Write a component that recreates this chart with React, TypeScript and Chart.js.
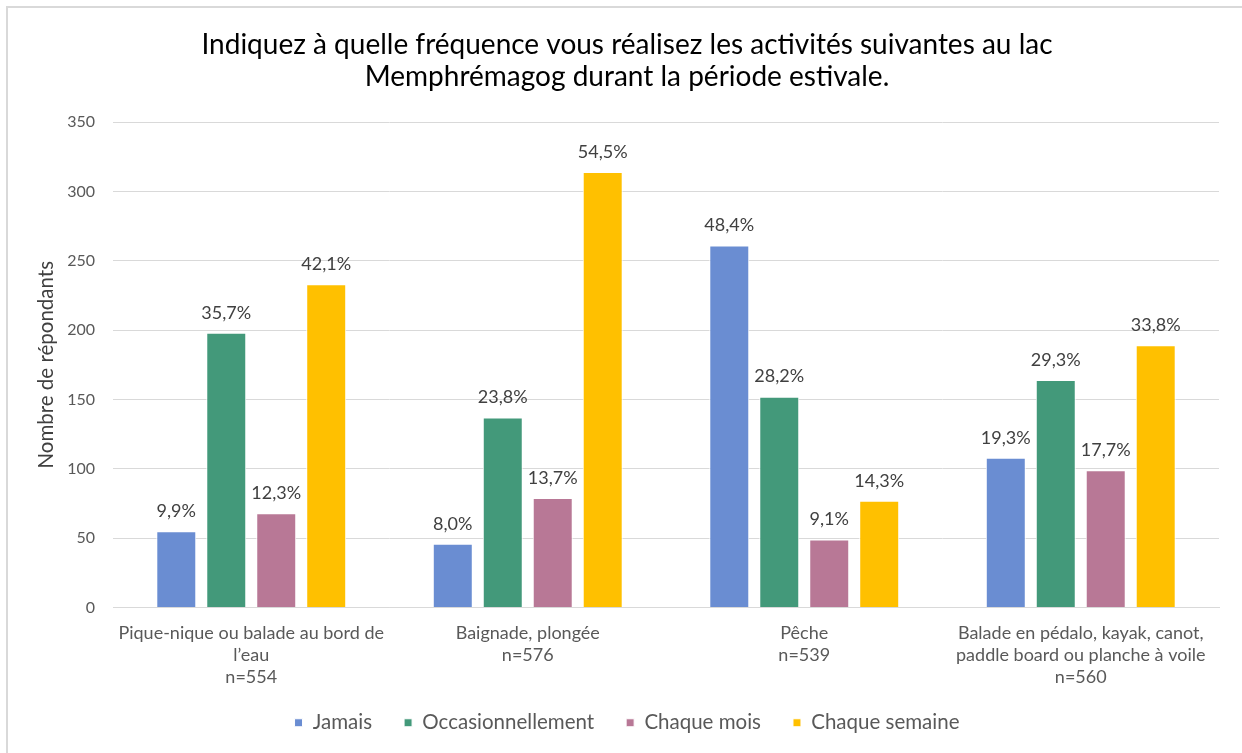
import React, { useEffect, useRef } from "react";
import { Chart, registerables } from "chart.js";

Chart.register(...registerables);

const categories: string[][] = [
  ["Pique-nique ou balade au bord de", "l’eau", "n=554"],
  ["Baignade, plongée", "n=576"],
  ["Pêche", "n=539"],
  ["Balade en pédalo, kayak, canot,", "paddle board ou planche à voile", "n=560"],
];

const seriesNames = ["Jamais", "Occasionnellement", "Chaque mois", "Chaque semaine"];
const seriesColors = ["#6A8DD2", "#43997A", "#B87896", "#FFC000"];

const jamais = [55, 46, 261, 108];
const occasionnellement = [198, 137, 152, 164];
const chaqueMois = [68, 79, 49, 99];
const chaqueSemaine = [233, 314, 77, 189];

const jamaisPct = ["9,9%", "8,0%", "48,4%", "19,3%"];
const occasionnellementPct = ["35,7%", "23,8%", "28,2%", "29,3%"];
const chaqueMoisPct = ["12,3%", "13,7%", "9,1%", "17,7%"];
const chaqueSemainePct = ["42,1%", "54,5%", "14,3%", "33,8%"];

const yTicks = [0, 50, 100, 150, 200, 250, 300, 350];

const titleLines = [
  "Indiquez à quelle fréquence vous réalisez les activités suivantes au lac",
  "Memphrémagog durant la période estivale.",
];
const yAxisTitle = "Nombre de répondants";

const FONT = "Lato, 'Open Sans', sans-serif";

const valueSets = [jamais, occasionnellement, chaqueMois, chaqueSemaine];
const labelSets = [jamaisPct, occasionnellementPct, chaqueMoisPct, chaqueSemainePct];

const dataLabelPlugin = {
  id: "pctLabels",
  afterDatasetsDraw(chart: any) {
    const ctx = chart.ctx;
    ctx.save();
    ctx.font = `18px ${FONT}`;
    ctx.fillStyle = "#404040";
    ctx.textAlign = "center";
    ctx.textBaseline = "middle";
    chart.data.datasets.forEach((ds: any, i: number) => {
      const meta = chart.getDatasetMeta(i);
      meta.data.forEach((bar: any, j: number) => {
        ctx.fillText(labelSets[i][j], bar.x, bar.y - 20);
      });
    });
    ctx.restore();
  },
};

export default function App() {
  const ref = useRef<HTMLCanvasElement>(null);
  useEffect(() => {
    if (!ref.current) return;
    const chart = new Chart(ref.current, {
      type: "bar",
      data: {
        labels: categories,
        datasets: seriesNames.map((name, i) => ({
          label: name,
          data: valueSets[i],
          backgroundColor: seriesColors[i],
          borderColor: "#ffffff",
          borderWidth: 1,
          categoryPercentage: 0.723,
          barPercentage: 0.8,
        })),
      },
      options: {
        animation: false,
        responsive: false,
        maintainAspectRatio: false,
        layout: { padding: { left: 35, right: 23, top: 0, bottom: 10 } },
        plugins: {
          title: {
            display: true,
            text: titleLines,
            color: "#000000",
            font: { family: FONT, size: 28, weight: "normal", lineHeight: 1.143 },
            padding: { top: 29, bottom: 29 },
          },
          legend: {
            display: true,
            position: "bottom",
            labels: {
              boxWidth: 8,
              boxHeight: 8,
              color: "#595959",
              font: { family: FONT, size: 20.5 },
              padding: 32,
            },
          },
          tooltip: { enabled: false },
        },
        scales: {
          x: {
            grid: { display: false, drawTicks: false },
            border: { display: true, color: "#d9d9d9", width: 1 },
            ticks: {
              color: "#595959",
              font: { family: FONT, size: 18, lineHeight: 1.222 },
              padding: 15,
              maxRotation: 0,
              autoSkip: false,
            },
            afterFit: (scale: any) => {
              scale.height = 73;
              scale._computeLabelArea = () => undefined;
            },
          },
          y: {
            min: 0,
            max: 350,
            afterBuildTicks: (scale: any) => {
              scale.ticks = yTicks.map((v) => ({ value: v }));
            },
            grid: { color: "#d9d9d9", drawTicks: false },
            border: { display: false },
            ticks: {
              color: "#595959",
              font: { family: FONT, size: 16 },
              padding: 18,
            },
            title: {
              display: true,
              text: yAxisTitle,
              color: "#404040",
              font: { family: FONT, size: 20.5, lineHeight: 1.1 },
              padding: { top: 0, bottom: 0 },
            },
            afterFit: (scale: any) => {
              scale.width = 78;
            },
          },
        },
      },
      plugins: [dataLabelPlugin],
    });
    return () => chart.destroy();
  }, []);
  return (
    <div style={{ position: "fixed", left: 0, top: 0, width: 1242, height: 753, background: "#fff", overflow: "hidden" }}>
      <canvas ref={ref} width={1242} height={753} style={{ position: "absolute", left: 0, top: 0 }} />
      <div
        style={{
          position: "absolute",
          left: 6,
          top: 6,
          width: 1300,
          height: 800,
          borderLeft: "2px solid #d9d9d9",
          borderTop: "2px solid #d9d9d9",
          pointerEvents: "none",
        }}
      />
    </div>
  );
}
